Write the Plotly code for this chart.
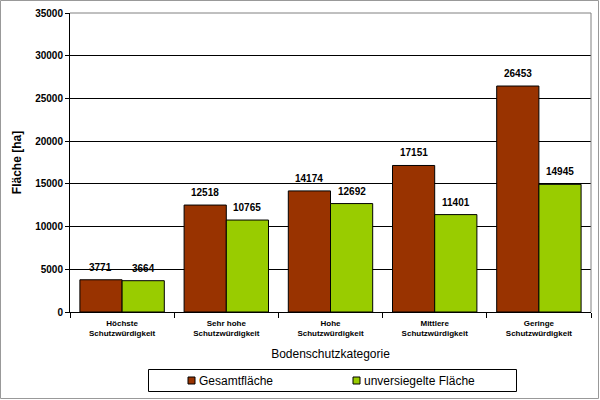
import plotly.graph_objects as go

categories = ["Höchste<br>Schutzwürdigkeit", "Sehr hohe<br>Schutzwürdigkeit", "Hohe<br>Schutzwürdigkeit",
              "Mittlere<br>Schutzwürdigkeit", "Geringe<br>Schutzwürdigkeit"]
gesamt = [3771, 12518, 14174, 17151, 26453]
unversiegelt = [3664, 10765, 12692, 11401, 14945]
y_ticks = [0, 5000, 10000, 15000, 20000, 25000, 30000, 35000]
series_names = ["Gesamtfläche", "unversiegelte Fläche"]
series_colors = ["#993300", "#99CC00"]

FONT = "Arial, Liberation Sans, sans-serif"
L, R, T, B = 70, 9, 13, 88
PW, PH = 600 - L - R, 400 - T - B
BARGAP = 0.19


def px(x):
    return (x - L) / PW


def py(y):
    return (400 - B - y) / PH


fig = go.Figure()
for name, vals, col in zip(series_names, [gesamt, unversiegelt], series_colors):
    fig.add_trace(go.Bar(x=categories, y=vals, name=name,
                         marker=dict(color=col, line=dict(color="black", width=1)),
                         showlegend=False))

# data labels above bars (centered over each bar of the group)
bar_w = PW / len(categories) * (1 - BARGAP) / 2
annotations = []
for i, vals in enumerate([gesamt, unversiegelt]):
    shift = (i - 0.5) * bar_w
    for c, v in zip(categories, vals):
        annotations.append(dict(x=c, y=v, xref="x", yref="y", text="<b>%d</b>" % v, showarrow=False,
                                xanchor="center", yanchor="bottom", xshift=shift, yshift=5,
                                font=dict(family=FONT, size=10, color="black")))

shapes = [
    dict(type="rect", xref="paper", yref="paper", x0=px(0.5), x1=px(598.5), y0=py(398.5), y1=py(0.5),
         line=dict(color="#999999", width=1), fillcolor="rgba(0,0,0,0)", layer="below"),
    dict(type="line", xref="paper", yref="paper", x0=0, x1=1, y0=1, y1=1, line=dict(color="#808080", width=1)),
    dict(type="line", xref="paper", yref="paper", x0=1, x1=1, y0=0, y1=1, line=dict(color="#808080", width=1)),
    # legend box
    dict(type="rect", xref="paper", yref="paper", x0=px(148.5), x1=px(516.5), y0=py(391.5), y1=py(369.5),
         line=dict(color="black", width=1), fillcolor="white"),
]
legend_sq_x = [188, 353]
for sx, col, name in zip(legend_sq_x, series_colors, series_names):
    shapes.append(dict(type="rect", xref="paper", yref="paper", x0=px(sx), x1=px(sx + 7),
                       y0=py(384), y1=py(377), line=dict(color="black", width=1), fillcolor=col))
    annotations.append(dict(text=name, xref="paper", yref="paper", x=px(sx + 9), y=py(380.5),
                            xanchor="left", yanchor="middle", showarrow=False,
                            font=dict(family=FONT, size=12, color="black")))

fig.update_layout(
    width=600, height=400,
    margin=dict(l=L, r=R, t=T, b=B, autoexpand=False),
    paper_bgcolor="white", plot_bgcolor="white",
    barmode="group", bargap=BARGAP, bargroupgap=0,
    font=dict(family=FONT, color="black"),
    showlegend=False,
    xaxis=dict(showline=True, linecolor="black", linewidth=1, ticks="outside", ticklen=5,
               tickcolor="black", tickson="boundaries", ticklabelstandoff=3,
               tickvals=categories, ticktext=["<b>" + c + "</b>" for c in categories],
               tickfont=dict(family=FONT, size=8, color="black"),
               title=dict(text="Bodenschutzkategorie", font=dict(family=FONT, size=12), standoff=12)),
    yaxis=dict(range=[0, 35000], tickvals=y_ticks, ticktext=["<b>%d</b>" % v for v in y_ticks],
               showline=True, linecolor="black", linewidth=1,
               ticks="outside", ticklen=4, tickcolor="black",
               showgrid=True, gridcolor="black", gridwidth=1, zeroline=False,
               tickfont=dict(family=FONT, size=10, color="black"),
               title=dict(text="<b>Fläche [ha]</b>", font=dict(family=FONT, size=12), standoff=10)),
    shapes=shapes,
    annotations=annotations,
)

fig.write_html("out.html")
